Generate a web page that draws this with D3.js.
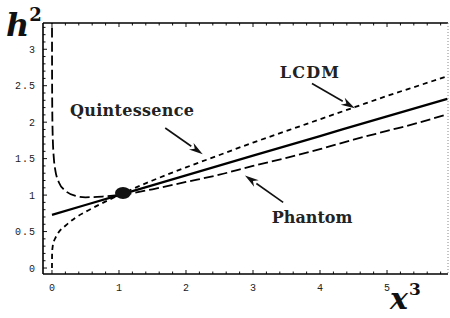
<!DOCTYPE html>
<html>
<head>
<meta charset="utf-8">
<script src="https://cdn.jsdelivr.net/npm/d3@7"></script>
<style>
  body { margin: 0; background: #fff; }
  svg { display: block; }
  .serif { font-family: "DejaVu Serif", serif; }
  .mono { font-family: "Liberation Mono", "DejaVu Sans Mono", monospace; }
</style>
</head>
<body>
<svg id="chart" width="450" height="318"></svg>
<script>
// values (x axis is x^3, y axis is h^2)
var xTicks = [0, 1, 2, 3, 4, 5],
    yTicks = [0, 0.5, 1, 1.5, 2, 2.5, 3];

var lcdmX = [0, 1, 2, 3, 4, 5, 5.9],
    lcdmY = [0.73, 1.0, 1.27, 1.54, 1.81, 2.08, 2.32];

var quintX = [0, 0.002, 0.01, 0.03, 0.05, 0.1, 0.2, 0.35, 0.5, 0.75, 1, 1.5, 2, 2.5, 3, 3.5, 4, 4.5, 5, 5.5, 5.9],
    quintY = [0, 0.21, 0.29, 0.37, 0.41, 0.49, 0.58, 0.69, 0.77, 0.89, 1.0, 1.2, 1.38, 1.55, 1.72, 1.88, 2.04, 2.2, 2.36, 2.51, 2.63];

var phantX = [0.0004, 0.001, 0.003, 0.01, 0.03, 0.05, 0.1, 0.2, 0.35, 0.5, 0.75, 1, 1.5, 2, 2.5, 3, 3.5, 4, 4.5, 5, 5.5, 5.9],
    phantY = [3.49, 2.91, 2.33, 1.84, 1.48, 1.34, 1.18, 1.06, 0.99, 0.97, 0.98, 1.0, 1.08, 1.18, 1.28, 1.4, 1.51, 1.63, 1.76, 1.88, 2.0, 2.11];

var markerPoint = [1.06, 1.03];

// labels with arrows: text position, arrow tail, arrow tip (data units)
var notes = [
  { text: "Quintessence", at: [0.27, 2.08], from: [1.69, 1.92], to: [2.25, 1.56], spacing: 0.3 },
  { text: "LCDM",         at: [3.40, 2.60], from: [3.88, 2.53], to: [4.52, 2.19], spacing: 1.2 },
  { text: "Phantom",      at: [3.28, 0.62], from: [3.45, 0.90], to: [2.88, 1.27], spacing: 0 }
];

var svg = d3.select("#chart"),
    W = +svg.attr("width"),
    H = +svg.attr("height"),
    margin = { top: 23, right: 2, bottom: 44, left: 43 },
    w = W - margin.left - margin.right,
    h = H - margin.top - margin.bottom;

var x = d3.scaleLinear().domain([-0.134, 5.91]).range([0, w]),
    y = d3.scaleLinear().domain([-0.082, 3.36]).range([h, 0]);

var g = svg.append("g").attr("transform", "translate(" + margin.left + "," + margin.top + ")");

g.append("clipPath").attr("id", "clip")
  .append("rect").attr("width", w).attr("height", h);

// frame ticks, pointing inward
var minorX = d3.range(0, 5.91, 0.2),
    minorY = d3.range(0, 3.36, 0.1);

var ticks = g.append("g").attr("stroke", "#111").attr("stroke-width", 1);
minorX.forEach(function (v) {
  var major = Math.abs(v - Math.round(v)) < 1e-6;
  var len = major ? 4 : 2.5;
  ticks.append("line").attr("x1", x(v)).attr("x2", x(v)).attr("y1", h).attr("y2", h - len);
  ticks.append("line").attr("x1", x(v)).attr("x2", x(v)).attr("y1", 0).attr("y2", len);
});
minorY.forEach(function (v) {
  var major = Math.abs(v * 2 - Math.round(v * 2)) < 1e-6;
  var len = major ? 4 : 2.5;
  ticks.append("line").attr("x1", 0).attr("x2", len).attr("y1", y(v)).attr("y2", y(v));
});

// tick labels
g.append("g").attr("class", "mono").selectAll("text").data(xTicks).join("text")
  .attr("x", function (d) { return x(d); })
  .attr("y", h + 17)
  .attr("text-anchor", "middle")
  .attr("font-size", 10)
  .attr("fill", "#222")
  .text(function (d) { return d; });

g.append("g").attr("class", "mono").selectAll("text").data(yTicks).join("text")
  .attr("x", -7)
  .attr("y", function (d) { return y(d) + 3.5; })
  .attr("text-anchor", "end")
  .attr("font-size", 10)
  .attr("letter-spacing", 1)
  .attr("fill", "#222")
  .text(function (d) { return d; });

// frame
g.append("line").attr("x1", 0).attr("x2", w).attr("y1", h).attr("y2", h).attr("stroke", "#000").attr("stroke-width", 1.6);
g.append("line").attr("x1", 0).attr("x2", 0).attr("y1", 0).attr("y2", h).attr("stroke", "#000").attr("stroke-width", 1.6);
g.append("line").attr("x1", 0).attr("x2", w).attr("y1", 0).attr("y2", 0).attr("stroke", "#000").attr("stroke-width", 1.6);
g.append("line").attr("x1", w).attr("x2", w).attr("y1", 0).attr("y2", h)
  .attr("stroke", "#888").attr("stroke-width", 1).attr("stroke-dasharray", "1,2");

// curves
var line = d3.line()
  .x(function (d) { return x(d[0]); })
  .y(function (d) { return y(d[1]); })
  .curve(d3.curveMonotoneX);

var curves = g.append("g").attr("clip-path", "url(#clip)").attr("fill", "none").attr("stroke", "#000");

curves.append("path")
  .attr("d", line(d3.zip(phantX, phantY)))
  .attr("stroke-width", 1.8)
  .attr("stroke-dasharray", "10,4");

curves.append("path")
  .attr("d", line(d3.zip(quintX, quintY)))
  .attr("stroke-width", 1.8)
  .attr("stroke-dasharray", "5,4");

curves.append("path")
  .attr("d", line(d3.zip(lcdmX, lcdmY)))
  .attr("stroke-width", 2.3);

g.append("ellipse")
  .attr("cx", x(markerPoint[0]))
  .attr("cy", y(markerPoint[1]))
  .attr("rx", 8).attr("ry", 6)
  .attr("fill", "#111");

// annotations
notes.forEach(function (n) {
  g.append("text")
    .attr("class", "serif")
    .attr("x", x(n.at[0]))
    .attr("y", y(n.at[1]))
    .attr("font-weight", "bold")
    .attr("font-size", 16)
    .attr("letter-spacing", n.spacing)
    .attr("fill", "#222")
    .text(n.text);

  var x0 = x(n.from[0]), y0 = y(n.from[1]),
      x1 = x(n.to[0]), y1 = y(n.to[1]);
  var ang = Math.atan2(y1 - y0, x1 - x0),
      len = 14, half = 4;
  var bx = x1 - len * Math.cos(ang), by = y1 - len * Math.sin(ang);
  g.append("line")
    .attr("x1", x0).attr("y1", y0).attr("x2", bx).attr("y2", by)
    .attr("stroke", "#111").attr("stroke-width", 1.6);
  g.append("path")
    .attr("d", "M" + x1 + "," + y1 +
      "L" + (bx + half * Math.sin(ang)) + "," + (by - half * Math.cos(ang)) +
      "L" + (x1 - 0.7 * len * Math.cos(ang)) + "," + (y1 - 0.7 * len * Math.sin(ang)) +
      "L" + (bx - half * Math.sin(ang)) + "," + (by + half * Math.cos(ang)) + "Z")
    .attr("fill", "#111");
});

// axis titles
var title = svg.append("g").attr("class", "serif").attr("font-weight", "bold").attr("fill", "#111");
var ht = title.append("text").attr("x", 6).attr("y", 36).attr("font-size", 32);
ht.append("tspan").attr("font-style", "italic").text("h");
ht.append("tspan").attr("font-size", 18).attr("dy", -15).attr("dx", 0).text("2");

var xt = title.append("text").attr("x", 390).attr("y", 309).attr("font-size", 30);
xt.append("tspan").attr("font-style", "italic").text("x");
xt.append("tspan").attr("font-size", 17).attr("dy", -14).attr("dx", 1).text("3");
</script>
</body>
</html>
